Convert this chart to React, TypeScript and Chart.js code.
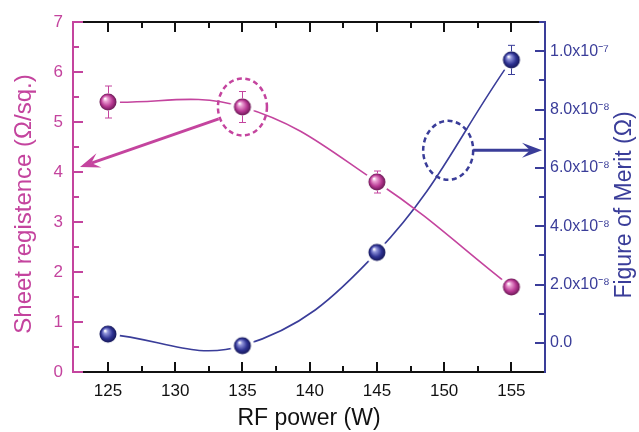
import React, { useEffect, useRef } from 'react';
import { Chart, registerables } from 'chart.js';

Chart.register(...registerables);

// ---- data ----
const rfPower = [125, 135, 145, 155];
const sheetResistance = [5.4, 5.3, 3.8, 1.7];
const sheetResistanceErr = [0.32, 0.31, 0.22, 0];
const figureOfMerit = [3e-9, -1e-9, 3.1e-8, 9.7e-8];
const figureOfMeritErr = [0, 0, 0, 5e-9];
const xTickValues = [125, 130, 135, 140, 145, 150, 155];
const leftTickValues = [0, 1, 2, 3, 4, 5, 6, 7];
const rightTickValues = [0, 2e-8, 4e-8, 6e-8, 8e-8, 1e-7];
const rightTickLabels = ['0.0', '2.0x10⁻⁸', '4.0x10⁻⁸', '6.0x10⁻⁸', '8.0x10⁻⁸', '1.0x10⁻⁷'];
const xTitle = 'RF power (W)';
const leftTitle = 'Sheet registence (Ω/sq.)';
const rightTitle = 'Figure of Merit (Ω)';

const PINK = '#C4449E';
const BLUE = '#3A3D99';
const FONT = 'Arial, "Liberation Sans", Helvetica, sans-serif';

function makeBall(light: string, base: string, dark: string, r: number, ring: number) {
  const size = Math.ceil((r + ring) * 2) + 2;
  const c = document.createElement('canvas');
  c.width = size;
  c.height = size;
  const ctx = c.getContext('2d')!;
  const cx = size / 2, cy = size / 2;
  ctx.beginPath();
  ctx.arc(cx, cy, r + ring, 0, Math.PI * 2);
  ctx.fillStyle = '#ffffff';
  ctx.fill();
  const g = ctx.createRadialGradient(cx - r * 0.35, cy - r * 0.4, r * 0.05, cx, cy, r);
  g.addColorStop(0, '#ffffff');
  g.addColorStop(0.22, light);
  g.addColorStop(0.65, base);
  g.addColorStop(1, dark);
  ctx.beginPath();
  ctx.arc(cx, cy, r, 0, Math.PI * 2);
  ctx.fillStyle = g;
  ctx.fill();
  return c;
}

function drawArrow(ctx: CanvasRenderingContext2D, x0: number, y0: number, x1: number, y1: number, color: string, lw: number, hl: number, hw: number) {
  const dx = x1 - x0, dy = y1 - y0;
  const len = Math.hypot(dx, dy);
  const ux = dx / len, uy = dy / len;
  const px = -uy, py = ux;
  ctx.save();
  ctx.setLineDash([]);
  ctx.strokeStyle = color;
  ctx.fillStyle = color;
  ctx.lineWidth = lw;
  ctx.beginPath();
  ctx.moveTo(x0, y0);
  ctx.lineTo(x1 - ux * hl * 0.6, y1 - uy * hl * 0.6);
  ctx.stroke();
  ctx.beginPath();
  ctx.moveTo(x1, y1);
  ctx.lineTo(x1 - ux * hl + px * hw, y1 - uy * hl + py * hw);
  ctx.lineTo(x1 - ux * hl * 0.6, y1 - uy * hl * 0.6);
  ctx.lineTo(x1 - ux * hl - px * hw, y1 - uy * hl - py * hw);
  ctx.closePath();
  ctx.fill();
  ctx.restore();
}

const BALL_R = 8.5;

const errorBarPlugin = {
  id: 'errorBars',
  afterDatasetsDraw(chart: any) {
    const ctx = chart.ctx;
    chart.data.datasets.forEach((ds: any, di: number) => {
      const meta = chart.getDatasetMeta(di);
      const scale = chart.scales[ds.yAxisID];
      ctx.save();
      ctx.strokeStyle = ds.errColor;
      ctx.lineWidth = 1;
      ds.values.forEach((v: number, i: number) => {
        const e = ds.errors[i];
        if (!e) return;
        const pt = meta.data[i];
        const yt = scale.getPixelForValue(v + e);
        const yb = scale.getPixelForValue(v - e);
        const x = Math.round(pt.x) + 0.5;
        ctx.beginPath();
        if (yt < pt.y - BALL_R) { ctx.moveTo(x, yt); ctx.lineTo(x, pt.y - BALL_R); }
        if (yb > pt.y + BALL_R) { ctx.moveTo(x, pt.y + BALL_R); ctx.lineTo(x, yb); }
        ctx.moveTo(x - 3.5, yt); ctx.lineTo(x + 3.5, yt);
        ctx.moveTo(x - 3.5, yb); ctx.lineTo(x + 3.5, yb);
        ctx.stroke();
      });
      ctx.restore();
    });
  },
};

const annotationPlugin = {
  id: 'annotations',
  afterDatasetsDraw(chart: any) {
    const { ctx, chartArea: a, scales } = chart;
    const xs = scales.x, yL = scales.y, yR = scales.y1;
    const pcx = xs.getPixelForValue(rfPower[1]);
    const pcy = yL.getPixelForValue(sheetResistance[1]);
    ctx.save();
    ctx.lineWidth = 2.5;
    ctx.setLineDash([5, 3.5]);
    ctx.strokeStyle = PINK;
    ctx.beginPath();
    ctx.ellipse(pcx, pcy, 24.5, 28.5, 0, 0, Math.PI * 2);
    ctx.stroke();
    const bcx = xs.getPixelForValue(150.3);
    const bcy = yR.getPixelForValue(6.6e-8);
    ctx.strokeStyle = BLUE;
    ctx.beginPath();
    ctx.ellipse(bcx, bcy, 25, 29.5, 0, 0, Math.PI * 2);
    ctx.stroke();
    ctx.restore();
    drawArrow(ctx, pcx - 23.7, pcy + 11.8, a.left + 7, yL.getPixelForValue(4.1), PINK, 3, 20, 7.5);
    drawArrow(ctx, bcx + 25, bcy, a.right - 3, bcy, BLUE, 3, 20, 7.5);
  },
};

function withMinor(vals: number[]) {
  const out: { v: number; major: boolean }[] = [];
  for (let i = 0; i < vals.length; i++) {
    out.push({ v: vals[i], major: true });
    if (i < vals.length - 1) out.push({ v: (vals[i] + vals[i + 1]) / 2, major: false });
  }
  return out;
}

const framePlugin = {
  id: 'frame',
  afterDraw(chart: any) {
    const ctx: CanvasRenderingContext2D = chart.ctx;
    const a = chart.chartArea;
    const xs = chart.scales.x, yL = chart.scales.y, yR = chart.scales.y1;
    const L = Math.round(a.left), R = Math.round(a.right), T = Math.round(a.top), B = Math.round(a.bottom);
    ctx.save();
    // bottom & top axes
    ctx.fillStyle = '#111111';
    const xt = withMinor(xTickValues);
    for (let i = 0; i < xt.length; i++) {
      const px = Math.round(xs.getPixelForValue(xt[i].v));
      const l = xt[i].major ? 10 : 6;
      ctx.fillRect(px - 1, B - l, 2, l);
      ctx.fillRect(px - 1, T, 2, l);
    }
    ctx.fillRect(L, B - 1, R - L, 2);
    ctx.fillRect(L, T - 1, R - L, 2);
    // left axis
    ctx.fillStyle = PINK;
    const lt = withMinor(leftTickValues);
    for (let i = 0; i < lt.length; i++) {
      const py = Math.round(yL.getPixelForValue(lt[i].v));
      const l = lt[i].major ? 10 : 6;
      ctx.fillRect(L, py - 1, l, 2);
    }
    ctx.fillRect(L - 1, T - 1, 2, B - T + 2);
    // right axis
    ctx.fillStyle = BLUE;
    const rt = withMinor([...rightTickValues, 1.2e-7]);
    for (let i = 0; i < rt.length; i++) {
      if (rt[i].v > 1.1e-7 + 1e-12) continue;
      const py = Math.round(yR.getPixelForValue(rt[i].v));
      const l = rt[i].major ? 10 : 6;
      ctx.fillRect(R - l, py - 1, l, 2);
    }
    ctx.fillRect(R - 1, T - 1, 2, B - T + 2);

    // vertical axis titles
    ctx.font = `24px ${FONT}`;
    ctx.textAlign = 'center';
    ctx.textBaseline = 'middle';
    ctx.fillStyle = PINK;
    ctx.save();
    ctx.translate(24, 204);
    ctx.rotate(-Math.PI / 2);
    ctx.fillText(leftTitle, 0, 0);
    ctx.restore();
    ctx.font = `23px ${FONT}`;
    ctx.fillStyle = BLUE;
    ctx.save();
    ctx.translate(625, 205);
    ctx.rotate(-Math.PI / 2);
    ctx.fillText(rightTitle, 0, 0);
    ctx.restore();
    ctx.restore();
  },
};

export default function App() {
  const ref = useRef<HTMLCanvasElement | null>(null);
  useEffect(() => {
    if (!ref.current) return;
    const pinkBall = makeBall('#EBA0D3', '#B83993', '#6A1854', BALL_R, 3.5);
    const blueBall = makeBall('#9195DB', '#2F3393', '#141657', BALL_R, 3.5);
    const chart = new Chart(ref.current, {
      type: 'line',
      data: {
        datasets: [
          {
            label: 'Sheet resistance',
            data: rfPower.map((p, i) => ({ x: p, y: sheetResistance[i] })) as any,
            yAxisID: 'y', borderColor: PINK, borderWidth: 1.6, tension: 0.4,
            pointStyle: pinkBall as any, pointRadius: BALL_R,
            values: sheetResistance, errors: sheetResistanceErr, errColor: PINK,
          } as any,
          {
            label: 'Figure of Merit',
            data: rfPower.map((p, i) => ({ x: p, y: figureOfMerit[i] })) as any,
            yAxisID: 'y1', borderColor: BLUE, borderWidth: 1.6, tension: 0.4,
            pointStyle: blueBall as any, pointRadius: BALL_R,
            values: figureOfMerit, errors: figureOfMeritErr, errColor: BLUE,
          } as any,
        ],
      },
      options: {
        animation: false,
        responsive: true,
        maintainAspectRatio: false,
        events: [],
        layout: { padding: { top: 22, left: 0, right: 0, bottom: 0 } },
        plugins: { legend: { display: false }, tooltip: { enabled: false } },
        scales: {
          x: {
            type: 'linear', position: 'bottom', min: 122.4, max: 157.5,
            afterBuildTicks: (s: any) => { s.ticks = xTickValues.map((v) => ({ value: v })); },
            afterFit: (s: any) => { s.height = 60; },
            grid: { display: false, drawTicks: false },
            border: { display: false },
            ticks: { color: '#111', font: { family: FONT, size: 17 }, padding: 9, maxRotation: 0, callback: (v: any) => String(v) },
            title: { display: true, text: xTitle, color: '#111', font: { family: FONT, size: 23, lineHeight: 1 }, padding: { top: 0, bottom: 2 } },
          },
          y: {
            type: 'linear', position: 'left', min: 0, max: 7,
            afterBuildTicks: (s: any) => { s.ticks = leftTickValues.map((v) => ({ value: v })); },
            afterFit: (s: any) => { s.width = 73; },
            grid: { display: false, drawTicks: false },
            border: { display: false },
            ticks: { color: PINK, font: { family: FONT, size: 17 }, padding: 10, callback: (v: any) => String(v) },
          },
          y1: {
            type: 'linear', position: 'right', min: -1e-8, max: 1.1e-7,
            afterBuildTicks: (s: any) => { s.ticks = rightTickValues.map((v) => ({ value: v })); },
            afterFit: (s: any) => { s.width = 94; },
            grid: { display: false, drawTicks: false },
            border: { display: false },
            ticks: {
              color: BLUE, font: { family: FONT, size: 16 }, padding: 5,
              callback: (v: any) => {
                const i = rightTickValues.findIndex((t) => Math.abs(t - v) < 1e-12);
                return i >= 0 ? rightTickLabels[i] : '';
              },
            },
          },
        },
      },
      plugins: [errorBarPlugin, annotationPlugin, framePlugin],
    });
    return () => chart.destroy();
  }, []);
  return (
    <div style={{ position: 'fixed', left: 0, top: 0, width: 639, height: 432, background: '#fff' }}>
      <canvas ref={ref} />
    </div>
  );
}
